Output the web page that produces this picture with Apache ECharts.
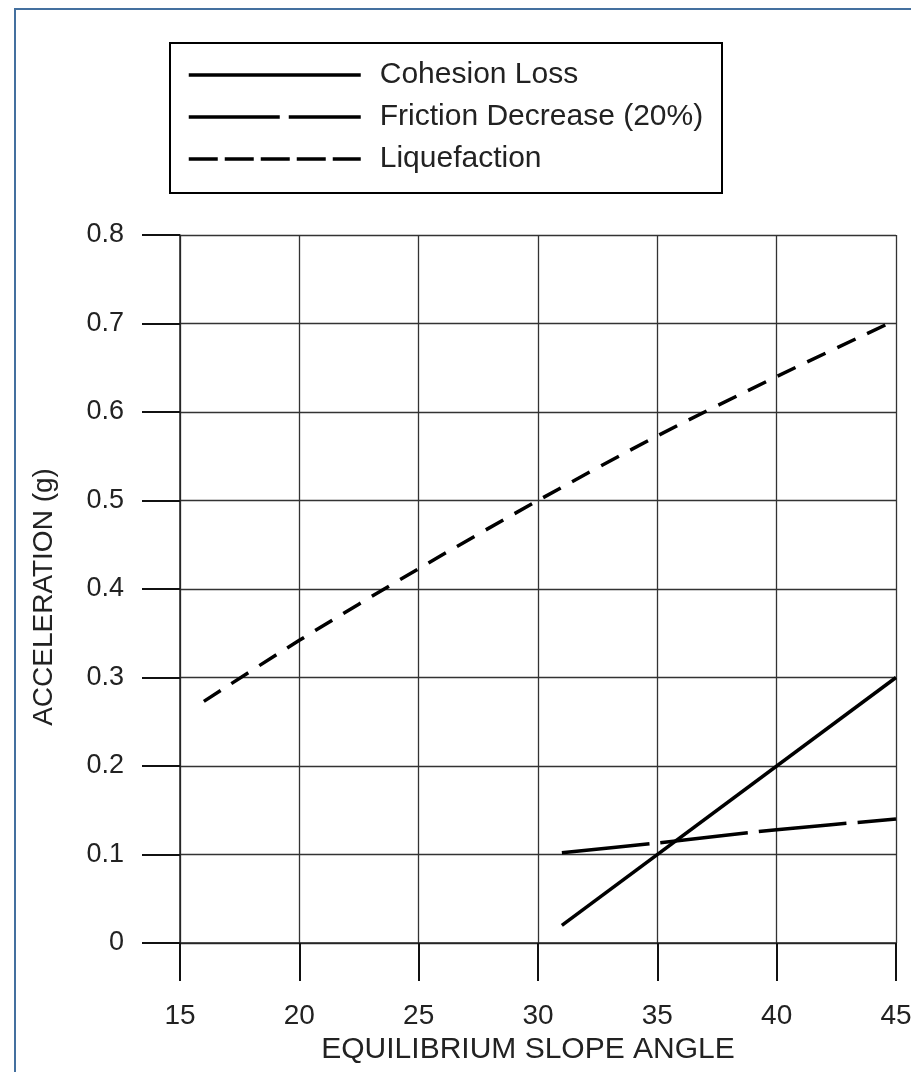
<!DOCTYPE html>
<html>
<head>
<meta charset="utf-8">
<script src="https://cdn.jsdelivr.net/npm/echarts@6/dist/echarts.min.js"></script>
<style>
html,body{margin:0;padding:0;background:#fff;}
#chart{width:911px;height:1072px;}
</style>
</head>
<body>
<div id="chart"></div>
<script>
// Data
var seriesNames = ['Cohesion Loss', 'Friction Decrease (20%)', 'Liquefaction'];
var cohesionX = [31, 45];
var cohesionY = [0.02, 0.30];
var frictionX = [31, 35, 40, 45];
var frictionY = [0.102, 0.113, 0.128, 0.140];
var liquefactionX = [16, 20, 25, 30, 35, 40, 45];
var liquefactionY = [0.273, 0.342, 0.423, 0.500, 0.573, 0.640, 0.704];
var xTicks = [15, 20, 25, 30, 35, 40, 45];
var yTicks = [0, 0.1, 0.2, 0.3, 0.4, 0.5, 0.6, 0.7, 0.8];

function pairs(xs, ys) { return xs.map(function (x, i) { return [x, ys[i]]; }); }

var chart = echarts.init(document.getElementById('chart'), null, {renderer: 'canvas'});
var font = 'Liberation Sans, Arial, sans-serif';
var txt = '#222';
var frictionDash = [88, 11];
var liqDash = [20, 13];
var liqLegendDash = [29, 7];
var hiddenSymbol = {opacity: 0, borderWidth: 0};

chart.setOption({
  animation: false,
  backgroundColor: '#fff',
  grid: {left: 180, right: 15, top: 235, bottom: 129, containLabel: false, outerBoundsMode: 'none'},
  graphic: [
    {type: 'rect', shape: {x: 15, y: 9, width: 1000, height: 1200},
     style: {fill: 'none', stroke: '#44709f', lineWidth: 2}, silent: true, z: 0},
    {type: 'rect', shape: {x: 170, y: 43, width: 552, height: 150},
     style: {fill: '#fff', stroke: '#000', lineWidth: 2}, silent: true, z: 1}
  ],
  legend: {
    show: true,
    orient: 'vertical',
    left: 187,
    top: 60,
    padding: 0,
    itemWidth: 172,
    itemHeight: 28,
    itemGap: 12,
    z: 10,
    lineStyle: {width: 3.5, color: '#000'},
    textStyle: {fontFamily: font, fontSize: 30, color: txt, padding: [0, 0, 0, 14]},
    data: [
      {name: seriesNames[0], itemStyle: hiddenSymbol, lineStyle: {type: 'solid', width: 3.5, color: '#000'}},
      {name: seriesNames[1], itemStyle: hiddenSymbol, lineStyle: {type: [91, 9], width: 3.5, color: '#000'}},
      {name: seriesNames[2], itemStyle: hiddenSymbol, lineStyle: {type: liqLegendDash, width: 3.5, color: '#000'}}
    ]
  },
  xAxis: {
    type: 'value',
    min: 15, max: 45, interval: 5,
    name: 'EQUILIBRIUM SLOPE ANGLE',
    nameLocation: 'middle',
    nameGap: 80,
    nameTextStyle: {fontFamily: font, fontSize: 30, color: txt, padding: [0, 20, 0, 0]},
    axisLine: {show: true, lineStyle: {color: '#222', width: 1.5}},
    axisTick: {show: true, length: 38, lineStyle: {color: '#111', width: 2}},
    axisLabel: {fontFamily: font, fontSize: 28, color: txt, margin: 59,
      formatter: function (v) { return xTicks.indexOf(v) >= 0 ? String(v) : ''; }},
    splitLine: {show: true, lineStyle: {color: '#333', width: 1.3}}
  },
  yAxis: {
    type: 'value',
    min: 0, max: 0.8, interval: 0.1,
    name: 'ACCELERATION (g)',
    nameLocation: 'middle',
    nameGap: 122,
    nameRotate: 90,
    nameTextStyle: {fontFamily: font, fontSize: 28, color: txt, padding: [0, 16, 0, 0]},
    axisLine: {show: true, lineStyle: {color: '#222', width: 1.5}},
    axisTick: {show: true, length: 38, lineStyle: {color: '#111', width: 2}},
    axisLabel: {fontFamily: font, fontSize: 27, color: txt, margin: 56,
      formatter: function (v) {
        var r = Math.round(v * 10) / 10;
        return r === 0 ? '0' : r.toFixed(1);
      }},
    splitLine: {show: true, lineStyle: {color: '#333', width: 1.3}}
  },
  series: [
    {name: seriesNames[0], type: 'line', data: pairs(cohesionX, cohesionY), symbol: 'none',
     lineStyle: {color: '#000', width: 3.5, type: 'solid'}, itemStyle: {color: '#000'}, z: 5},
    {name: seriesNames[1], type: 'line', data: pairs(frictionX, frictionY), symbol: 'none', smooth: 0.3,
     lineStyle: {color: '#000', width: 3.5, type: frictionDash}, itemStyle: {color: '#000'}, z: 5},
    {name: seriesNames[2], type: 'line', data: pairs(liquefactionX, liquefactionY), symbol: 'none', smooth: 0.3,
     lineStyle: {color: '#000', width: 3.5, type: liqDash}, itemStyle: {color: '#000'}, z: 5}
  ]
});
</script>
</body>
</html>
